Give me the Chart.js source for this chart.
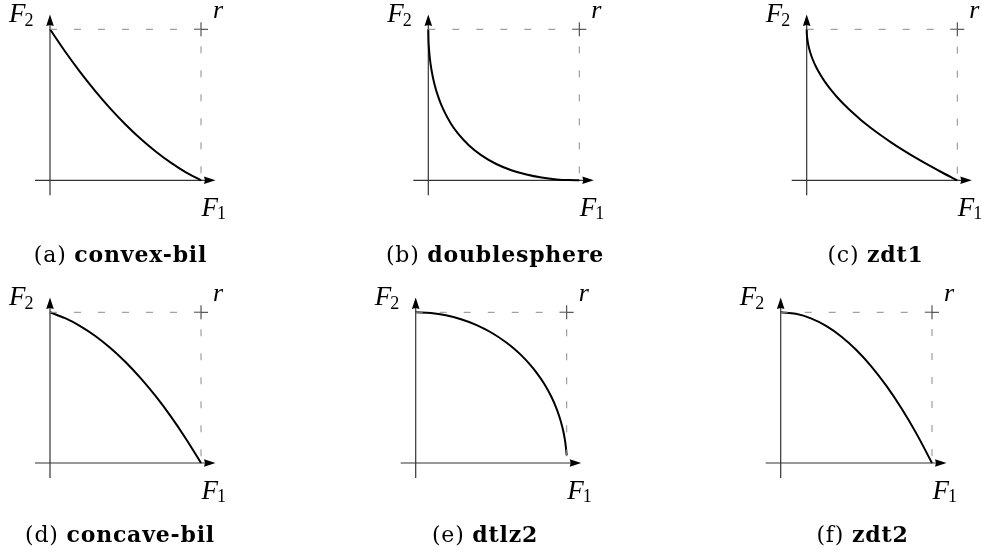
<!DOCTYPE html>
<html>
<head>
<meta charset="utf-8">
<script src="https://cdn.jsdelivr.net/npm/chart.js@4/dist/chart.umd.min.js"></script>
<style>
  html, body { margin: 0; padding: 0; background: #fff; }
  body { width: 982px; height: 559px; overflow: hidden; position: relative; }
  canvas { position: absolute; }
</style>
</head>
<body>
<script>
// ---------- data ----------
const panelLetters = ['a', 'b', 'c', 'd', 'e', 'f'];
const panelNames = ['convex-bil', 'doublesphere', 'zdt1', 'concave-bil', 'dtlz2', 'zdt2'];

const convexBilF1 = [0, 0.1, 0.2, 0.3, 0.4, 0.5, 0.6, 0.7, 0.8, 0.9, 1];
const convexBilF2 = [1, 0.853, 0.717, 0.591, 0.475, 0.37, 0.275, 0.191, 0.117, 0.053, 0];

const doublesphereF1 = [0, 0.001, 0.004, 0.01, 0.02, 0.04, 0.07, 0.1, 0.15, 0.2, 0.27, 0.35, 0.45, 0.55, 0.65, 0.75, 0.85, 0.93, 1];
const doublesphereF2 = [1, 0.938, 0.877, 0.81, 0.737, 0.64, 0.541, 0.468, 0.375, 0.306, 0.231, 0.167, 0.108, 0.067, 0.038, 0.018, 0.006, 0.0013, 0];

const zdt1F1 = [0, 0.0004, 0.0025, 0.01, 0.0225, 0.04, 0.0625, 0.09, 0.1225, 0.16, 0.2025, 0.25, 0.3025, 0.36, 0.4225, 0.49, 0.5625, 0.64, 0.7225, 0.81, 0.9025, 1];
const zdt1F2 = [1, 0.98, 0.95, 0.9, 0.85, 0.8, 0.75, 0.7, 0.65, 0.6, 0.55, 0.5, 0.45, 0.4, 0.35, 0.3, 0.25, 0.2, 0.15, 0.1, 0.05, 0];

const concaveBilF1 = [0, 0.1, 0.2, 0.3, 0.4, 0.5, 0.6, 0.7, 0.8, 0.9, 1];
const concaveBilF2 = [1, 0.961, 0.909, 0.843, 0.763, 0.67, 0.563, 0.443, 0.309, 0.161, 0];

const dtlz2F1 = [0, 0.1, 0.2, 0.3, 0.4, 0.5, 0.6, 0.65, 0.7, 0.75, 0.8, 0.85, 0.9, 0.93, 0.95, 0.97, 0.98, 0.99, 0.995, 1];
const dtlz2F2 = [1, 0.995, 0.98, 0.954, 0.917, 0.866, 0.8, 0.76, 0.714, 0.661, 0.6, 0.527, 0.436, 0.368, 0.312, 0.243, 0.199, 0.141, 0.1, 0.05];

const zdt2F1 = [0, 0.1, 0.2, 0.3, 0.4, 0.5, 0.6, 0.7, 0.8, 0.9, 1];
const zdt2F2 = [1, 0.99, 0.96, 0.91, 0.84, 0.75, 0.64, 0.51, 0.36, 0.19, 0];

// reference point r and the dashed box through it
const refF1 = [0, 1, 1];
const refF2 = [1, 1, 0];
const refLabel = 'r';
const xAxisLabel = ['F', '1'];
const yAxisLabel = ['F', '2'];

const f1Series = [convexBilF1, doublesphereF1, zdt1F1, concaveBilF1, dtlz2F1, zdt2F1];
const f2Series = [convexBilF2, doublesphereF2, zdt1F2, concaveBilF2, dtlz2F2, zdt2F2];

// ---------- layout (page pixels) ----------
const layout = [
  {left: 0,   top: 0,   w: 327, h: 280, ox: 50,    oy: 180.3, rx: 201,   ty: 29.3,  capX: 120.5, capY: 262},
  {left: 327, top: 0,   w: 327, h: 280, ox: 428.3, oy: 180.3, rx: 579.3, ty: 29.3,  capX: 495,   capY: 262},
  {left: 654, top: 0,   w: 328, h: 280, ox: 806.7, oy: 180.3, rx: 957.3, ty: 29.3,  capX: 875.5, capY: 262},
  {left: 0,   top: 280, w: 327, h: 279, ox: 50,    oy: 463,   rx: 201,   ty: 312.3, capX: 120,   capY: 542},
  {left: 327, top: 280, w: 327, h: 279, ox: 415.7, oy: 463,   rx: 566.7, ty: 312.3, capX: 485,   capY: 542},
  {left: 654, top: 280, w: 328, h: 279, ox: 780.7, oy: 463,   rx: 932,   ty: 312.3, capX: 862.5, capY: 542}
];

const serif = '"Liberation Serif", "DejaVu Serif", serif';
const capFont = '"DejaVu Serif", serif';

function decoPlugin(i) {
  const L = layout[i];
  return {
    id: 'deco' + i,
    beforeDatasetsDraw(chart) {
      const ctx = chart.ctx, xs = chart.scales.x, ys = chart.scales.y;
      const x0 = xs.getPixelForValue(0), y0 = ys.getPixelForValue(0);
      const x1 = xs.getPixelForValue(refF1[1]), y1 = ys.getPixelForValue(refF2[1]);
      ctx.save();
      // axes
      ctx.strokeStyle = '#333';
      ctx.lineWidth = 1.2;
      ctx.beginPath();
      ctx.moveTo(x0 - 15, y0); ctx.lineTo(x1 + 5, y0);
      ctx.moveTo(x0, y0 + 15); ctx.lineTo(x0, y1 - 5);
      ctx.stroke();
      // arrow heads
      ctx.fillStyle = '#000';
      ctx.beginPath();
      ctx.moveTo(x1 + 14.5, y0); ctx.lineTo(x1 + 3, y0 - 3.8); ctx.lineTo(x1 + 4, y0); ctx.lineTo(x1 + 3, y0 + 3.8); ctx.closePath();
      ctx.fill();
      ctx.beginPath();
      ctx.moveTo(x0, y1 - 14.8); ctx.lineTo(x0 - 3.8, y1 - 3.3); ctx.lineTo(x0, y1 - 4.3); ctx.lineTo(x0 + 3.8, y1 - 3.3); ctx.closePath();
      ctx.fill();
      // plus marker at r
      ctx.strokeStyle = '#333';
      ctx.lineWidth = 1;
      ctx.beginPath();
      ctx.moveTo(x1 - 7, y1); ctx.lineTo(x1 + 7, y1);
      ctx.moveTo(x1, y1 - 7); ctx.lineTo(x1, y1 + 7);
      ctx.stroke();
      ctx.restore();
    },
    afterDraw(chart) {
      const ctx = chart.ctx, xs = chart.scales.x, ys = chart.scales.y;
      const x0 = xs.getPixelForValue(0), y0 = ys.getPixelForValue(0);
      const x1 = xs.getPixelForValue(refF1[1]), y1 = ys.getPixelForValue(refF2[1]);
      ctx.save();
      ctx.fillStyle = '#000';
      ctx.textAlign = 'left';
      ctx.textBaseline = 'alphabetic';
      const mainF = 'italic 27px ' + serif, subF = '18px ' + serif;
      function labelWithSub(parts, x, y) {
        ctx.font = mainF;
        ctx.fillText(parts[0], x, y);
        const w = ctx.measureText(parts[0]).width;
        ctx.font = subF;
        ctx.fillText(parts[1], x + w - 1, y + 3.5);
      }
      labelWithSub(yAxisLabel, x0 - 41, y1 - 7.3);
      labelWithSub(xAxisLabel, x1 + 0.5, y0 + 35.5);
      ctx.font = 'italic 26px ' + serif;
      ctx.fillText(refLabel, x1 + 12, y1 - 11);
      // caption
      const pre = '(' + panelLetters[i] + ') ';
      const name = panelNames[i];
      ctx.letterSpacing = '0.8px';
      ctx.font = '22px ' + capFont;
      const wPre = ctx.measureText(pre).width;
      ctx.font = 'bold 22px ' + capFont;
      const wName = ctx.measureText(name).width;
      const cx = L.capX - L.left, cy = L.capY - L.top;
      const start = cx - (wPre + wName) / 2;
      ctx.font = '22px ' + capFont;
      ctx.fillText(pre, start, cy);
      ctx.font = 'bold 22px ' + capFont;
      ctx.fillText(name, start + wPre, cy);
      ctx.restore();
    }
  };
}

function makePanel(i) {
  const L = layout[i];
  const cv = document.createElement('canvas');
  cv.width = L.w; cv.height = L.h;
  cv.style.left = L.left + 'px'; cv.style.top = L.top + 'px';
  cv.style.width = L.w + 'px'; cv.style.height = L.h + 'px';
  document.body.appendChild(cv);
  const pts = f1Series[i].map((x, k) => ({x: x, y: f2Series[i][k]}));
  const ref = refF1.map((x, k) => ({x: x, y: refF2[k]}));
  new Chart(cv, {
    type: 'scatter',
    data: {
      datasets: [
        {label: 'r', data: ref, showLine: true, borderColor: '#8a8a8a', borderWidth: 1,
         borderDash: [7, 17], pointRadius: 0, clip: false, tension: 0},
        {label: panelNames[i], data: pts, showLine: true, borderColor: '#000', borderWidth: 2,
         pointRadius: 0, clip: false, cubicInterpolationMode: 'monotone'}
      ]
    },
    options: {
      responsive: false,
      animation: false,
      devicePixelRatio: 1,
      events: [],
      layout: {padding: {left: L.ox - L.left, top: L.ty - L.top, right: L.left + L.w - L.rx, bottom: L.top + L.h - L.oy}},
      scales: {
        x: {type: 'linear', min: 0, max: 1, display: false},
        y: {type: 'linear', min: 0, max: 1, display: false}
      },
      plugins: {legend: {display: false}, tooltip: {enabled: false}, title: {display: false}}
    },
    plugins: [decoPlugin(i)]
  });
}

for (let i = 0; i < 6; i++) makePanel(i);
</script>
</body>
</html>
